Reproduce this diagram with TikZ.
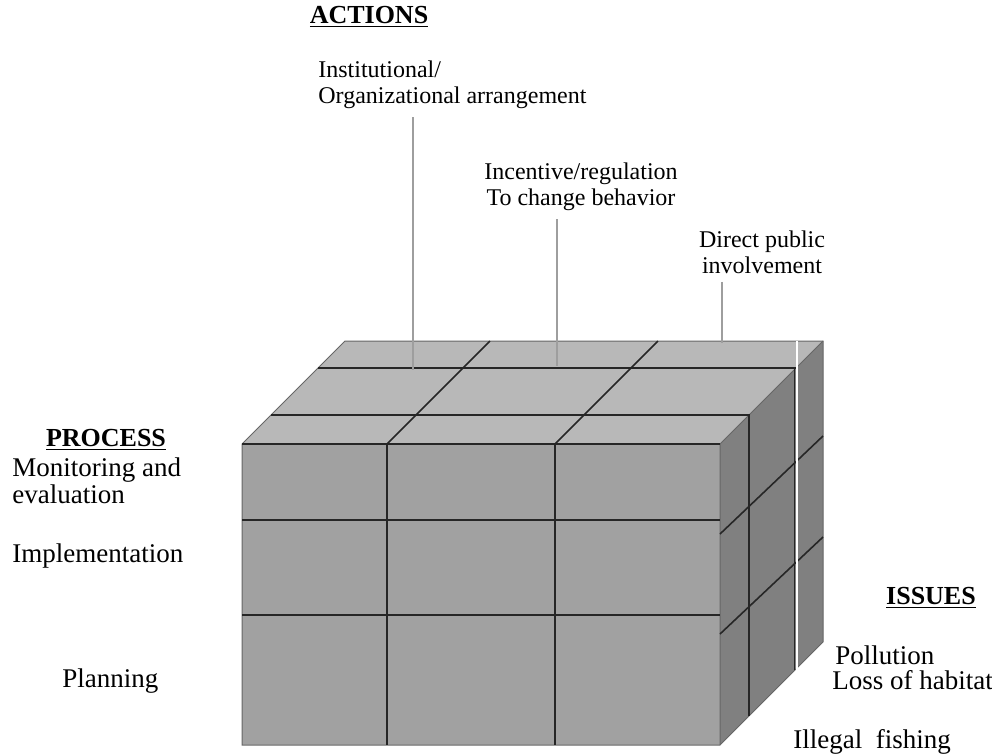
\documentclass[tikz,border=0pt]{standalone}
\usepackage{fontspec}
\setmainfont{Liberation Serif}
\usetikzlibrary{positioning}
\tikzset{%
txt/.style={font=\fontsize{13.5}{13.5}\selectfont,inner sep=0pt},
toptxt/.style={font=\fontsize{12}{13}\selectfont,inner sep=0pt},
head/.style={font=\fontsize{13}{15}\selectfont\bfseries,inner sep=0pt},
actline/.style={draw=black!38,line width=1.3pt},
gridline/.style={draw=black!85,line width=0.8pt},
edgeline/.style={draw=black!60,line width=0.5pt},
frontface/.style={fill=black!37},
topface/.style={fill=black!28},
sideface/.style={fill=black!50}
}

\begin{document}
\begin{tikzpicture}[x=0.5pt,y=-0.5pt]
  \useasboundingbox (0,0) rectangle (992,756);

  \fill[topface] (242,444) -- (720,444) -- (823,341) -- (345,341) -- cycle;
  \fill[sideface] (720,444) -- (823,341) -- (823,642) -- (720,745) -- cycle;
  \fill[frontface] (242,444) rectangle (720,745);
  \draw[edgeline] (242,745) -- (242,444) -- (345,341) -- (823,341) -- (823,642) -- (720,745) -- cycle;
  \draw[edgeline] (720,444) -- (720,745) (720,444) -- (823,341);

  \draw[gridline] (242,444) -- (720,444);
  \draw[gridline] (242,520) -- (720,520) (242,615) -- (720,615);
  \draw[gridline] (387,444) -- (387,745) (555,444) -- (555,745);
  \draw[gridline] (387,444) -- (490,341) (555,444) -- (658,341);
  \draw[gridline] (271,415) -- (749,415) -- (749,716);
  \draw[gridline] (318,368) -- (796,368);
  \draw[gridline] (720,534) -- (823,436) (720,634) -- (823,537);
  \draw[gridline,line width=0.5pt] (794,368) -- (794,670);
  \draw[white,line width=1.1pt] (797,341) -- (797,673);

  \coordinate (insttop) at (413,370);
  \coordinate (inctop) at (557,366);
  \coordinate (dirtop) at (722,343);

  \node[head] (act) at (369,17) {\underline{ACTIONS}};
  \node[toptxt,anchor=west,align=left] (inst) at (318,85) {Institutional/\\Organizational arrangement};
  \node[toptxt,align=center] (inc) at (581,187) {Incentive/regulation\\ To change behavior};
  \node[toptxt,align=center] (dir) at (762,252) {Direct public\\involvement};

  \node[head] (proc) at (106,440) {\underline{PROCESS}};
  \node[txt,anchor=west,align=left] (mon) at (12,481) {Monitoring and\\evaluation};
  \node[txt,anchor=west] (impl) at (12,556) {Implementation};
  \node[txt,anchor=west] (plan) at (62,681) {Planning};

  \node[head] (iss) at (931,598) {\underline{ISSUES}};
  \node[txt,anchor=west] (poll) at (835,655) {Pollution};
  \node[txt,anchor=west] (loss) at (832,680) {Loss of habitat};
  \node[txt,anchor=west] (ill) at (793,742) {Illegal\ \ fishing};

  \draw[actline] (inst.south -| insttop) ++(0,8) -- (insttop);
  \draw[actline] (inc.south -| inctop) ++(0,8) -- (inctop);
  \draw[actline] (dir.south -| dirtop) ++(0,8) -- (dirtop);
\end{tikzpicture}
\end{document}
